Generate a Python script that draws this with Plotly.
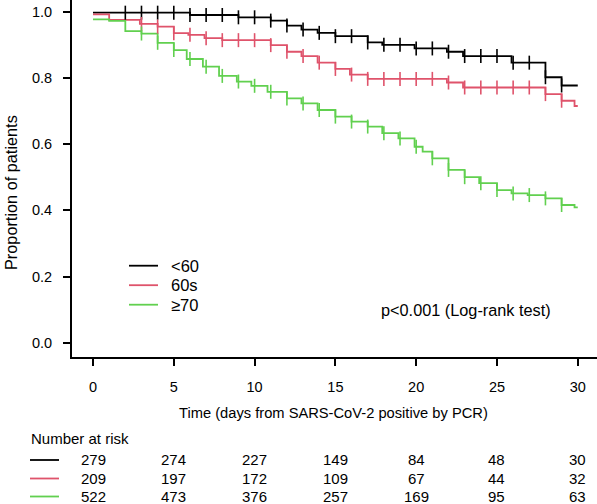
import plotly.graph_objects as go

# ---- data ----
groups = ["<60", "60s", "≥70"]
colors = ["#000000", "#DF536B", "#61D04F"]

black_t = [0, 6, 9, 11, 12, 12.9, 13.9, 15, 17, 17.9, 19.9, 21.9, 22.9, 25.9, 28, 29]
black_s = [0.997, 0.99, 0.983, 0.973, 0.958, 0.946, 0.936, 0.926, 0.907, 0.9, 0.889, 0.879, 0.866, 0.846, 0.802, 0.777]

red_t = [0, 1, 2.9, 4, 5, 5.9, 6.9, 8, 11, 12, 12.9, 13.9, 15, 15.9, 17, 21.9, 22.9, 28, 29, 29.8]
red_s = [0.992, 0.975, 0.963, 0.955, 0.935, 0.93, 0.92, 0.914, 0.899, 0.879, 0.866, 0.846, 0.827, 0.81, 0.797, 0.786, 0.771, 0.751, 0.731, 0.715]

green_t = [0, 1, 2, 3, 4, 5, 5.8, 6.8, 7.8, 8.9, 9.8, 10.8, 12, 12.9, 13.9, 15, 16, 17, 17.9, 18.9,
           19.9, 20.4, 21, 22, 23, 23.9, 25, 25.9, 26.9, 28, 29, 29.8]
green_s = [0.977, 0.972, 0.941, 0.934, 0.906, 0.884, 0.857, 0.834, 0.806, 0.789, 0.776, 0.758, 0.738, 0.723,
           0.703, 0.683, 0.668, 0.653, 0.633, 0.617, 0.592, 0.577, 0.557, 0.522, 0.5, 0.482, 0.461, 0.451,
           0.446, 0.436, 0.416, 0.409]

black_cens = list(range(2, 30))
red_cens = list(range(3, 30))
green_cens = list(range(3, 30))

followup_end = 30

risk_times = [0, 5, 10, 15, 20, 25, 30]
risk_lt60 = [279, 274, 227, 149, 84, 48, 30]
risk_60s = [209, 197, 172, 109, 67, 44, 32]
risk_ge70 = [522, 473, 376, 257, 169, 95, 63]

x_ticks = [0, 5, 10, 15, 20, 25, 30]
y_ticks = [0.0, 0.2, 0.4, 0.6, 0.8, 1.0]
y_ticklabels = ["0.0", "0.2", "0.4", "0.6", "0.8", "1.0"]

# ---- figure ----
FONT = "Liberation Sans, Arial, sans-serif"
W, H = 597, 504
ML, MR, MT, MB = 72, 0, 0, 147
PW, PH = W - ML - MR, H - MT - MB
LW = 1.8


def step_value(ts, ss, d):
    v = ss[0]
    for t, s in zip(ts, ss):
        if t <= d:
            v = s
    return v


def py_to_paper(py):
    return (MT + PH - py) / PH


def px_to_paper(px):
    return (px - ML) / PW


fig = go.Figure()
series = [(black_t, black_s, black_cens), (red_t, red_s, red_cens), (green_t, green_s, green_cens)]
for (ts, ss, cens), name, col in zip(series, groups, colors):
    fig.add_trace(go.Scatter(
        x=ts + [followup_end], y=ss + [ss[-1]], mode="lines", line=dict(color=col, width=LW, shape="hv"),
        name=name, showlegend=False, hoverinfo="skip"))
for (ts, ss, cens), name, col in zip(series, groups, colors):
    fig.add_trace(go.Scatter(
        x=cens, y=[step_value(ts, ss, d) for d in cens], mode="markers",
        marker=dict(symbol="line-ns", size=10, line=dict(color=col, width=1.6)),
        showlegend=False, name=name + " censored", hoverinfo="skip"))

annotations = []
shapes = []

# legend (drawn manually)
leg_py = [265.7, 285.2, 304.7]
for name, col, lpy in zip(groups, colors, leg_py):
    shapes.append(dict(type="line", xref="paper", yref="paper", x0=px_to_paper(129), x1=px_to_paper(158),
                       y0=py_to_paper(lpy), y1=py_to_paper(lpy), line=dict(color=col, width=LW)))
    annotations.append(dict(x=px_to_paper(169), y=py_to_paper(lpy), xref="paper", yref="paper", text=name,
                            showarrow=False, xanchor="left", yanchor="middle",
                            font=dict(size=16.5, color="#000", family=FONT)))

annotations.append(dict(x=px_to_paper(466), y=py_to_paper(310), xref="paper", yref="paper",
                        text="p<0.001 (Log-rank test)", showarrow=False, xanchor="center", yanchor="middle",
                        font=dict(size=16.3, color="#000", family=FONT)))

# axis titles
annotations.append(dict(x=px_to_paper(333), y=py_to_paper(413), xref="paper", yref="paper",
                        text="Time (days from SARS-CoV-2 positive by PCR)", showarrow=False,
                        xanchor="center", yanchor="middle", font=dict(size=14.7, color="#000", family=FONT)))
annotations.append(dict(x=px_to_paper(11), y=py_to_paper(193), xref="paper", yref="paper",
                        text="Proportion of patients", showarrow=False, textangle=-90,
                        xanchor="center", yanchor="middle", font=dict(size=16.3, color="#000", family=FONT)))

# number at risk table
annotations.append(dict(x=px_to_paper(29), y=py_to_paper(438), xref="paper", yref="paper",
                        text="Number at risk", showarrow=False, xanchor="left", yanchor="middle",
                        font=dict(size=15, color="#000", family=FONT)))
row_py = [460, 478.5, 496.5]
for vals, col, rpy in zip([risk_lt60, risk_60s, risk_ge70], colors, row_py):
    shapes.append(dict(type="line", xref="paper", yref="paper", x0=px_to_paper(30), x1=px_to_paper(59),
                       y0=py_to_paper(rpy), y1=py_to_paper(rpy), line=dict(color=col, width=LW)))
    for t, v in zip(risk_times, vals):
        annotations.append(dict(x=t, y=py_to_paper(rpy), xref="x", yref="paper", text=str(v),
                                showarrow=False, xanchor="center", yanchor="middle",
                                font=dict(size=15, color="#000", family=FONT)))

fig.update_layout(
    width=W, height=H, margin=dict(l=ML, r=MR, t=MT, b=MB, pad=0),
    paper_bgcolor="white", plot_bgcolor="white",
    font=dict(family=FONT, size=14, color="#000"),
    showlegend=False,
    xaxis=dict(range=[-1.30, 31.19], tickvals=x_ticks, ticks="outside", ticklen=7, tickwidth=2,
               tickcolor="#000", showline=True, linecolor="#000", linewidth=2, showgrid=False,
               zeroline=False, ticklabelstandoff=9, tickfont=dict(size=14.5, family=FONT)),
    yaxis=dict(range=[-0.0432, 1.0353], tickvals=y_ticks, ticktext=y_ticklabels, ticks="outside",
               ticklen=7, tickwidth=2, tickcolor="#000", showline=True, linecolor="#000", linewidth=2,
               showgrid=False, zeroline=False, ticklabelstandoff=8, tickfont=dict(size=14.5, family=FONT)),
    annotations=annotations, shapes=shapes,
)

fig.write_html("out.html", config={"displayModeBar": False},
               post_script="document.body.style.margin='0';document.body.style.padding='0';")
